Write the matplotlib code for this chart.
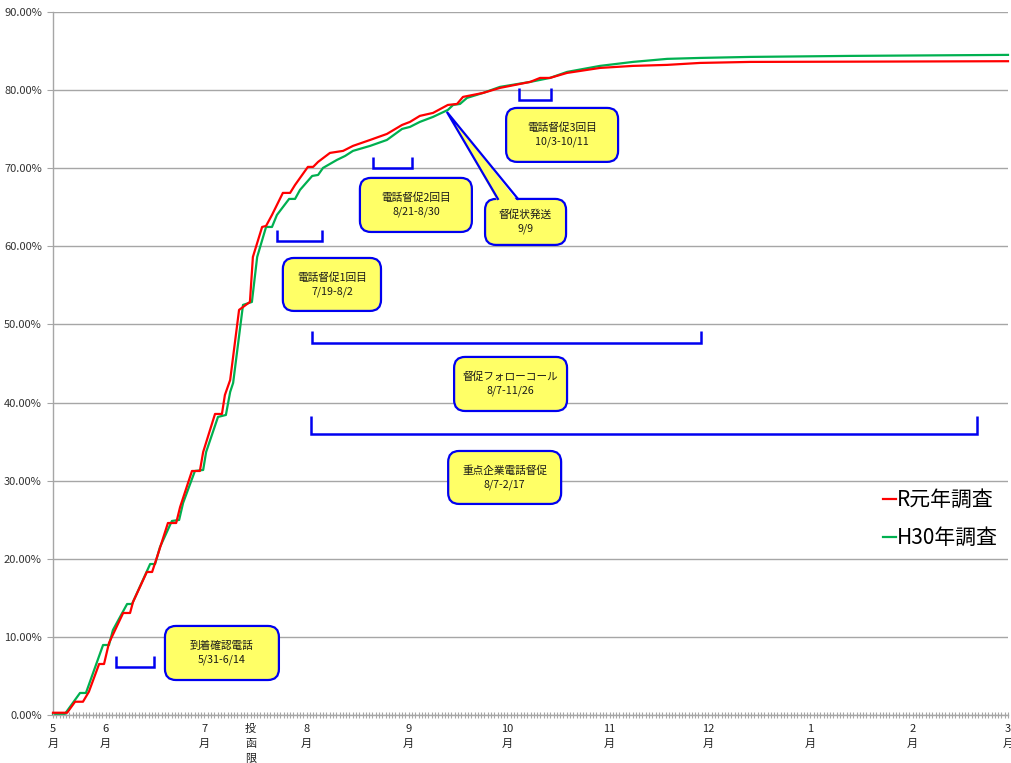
import matplotlib
matplotlib.use("Agg")
import matplotlib.pyplot as plt
from matplotlib.patches import FancyBboxPatch, Polygon
from matplotlib.ticker import FuncFormatter, MultipleLocator

plt.rcParams['font.family'] = ['Noto Sans CJK JP', 'DejaVu Sans']

# ---- data (x = days since 5/16, y = cumulative response rate %) ----
red_label = "R元年調査"
red_days = [0, 4.3, 6.7, 9.1, 10.9, 14.0, 15.5, 17.0, 21.3, 23.4, 24.3, 28.5, 30.1, 31.6,
            34.9, 37.4, 38.6, 42.2, 44.6, 45.6, 49.2, 51.3, 52.2, 53.8, 56.5, 59.8, 60.7,
            63.5, 64.7, 66.5, 69.8, 72.0, 73.5, 77.4, 79.0, 80.5, 84.1, 88.1, 91.1, 96.3,
            101.4, 106.0, 108.4, 111.4, 115.4, 119.9, 122.7, 124.5, 130.6, 135.7, 144.9,
            147.9, 150.9, 156.1, 166.1, 176.1, 186.5, 196.5, 211.7, 250, 290]
red_vals = [0.29, 0.29, 1.70, 1.70, 2.98, 6.53, 6.53, 9.22, 13.06, 13.06, 14.47, 18.31, 18.31,
            20.23, 24.58, 24.58, 26.63, 31.24, 31.24, 33.67, 38.54, 38.54, 40.97, 42.89,
            51.86, 52.88, 58.64, 62.48, 62.61, 64.02, 66.84, 66.84, 67.86, 70.17, 70.17,
            70.81, 71.96, 72.22, 72.86, 73.62, 74.39, 75.54, 75.93, 76.70, 77.08, 78.10,
            78.23, 79.13, 79.64, 80.28, 81.05, 81.56, 81.56, 82.20, 82.84, 83.10, 83.23,
            83.48, 83.61, 83.65, 83.70]

green_label = "H30年調査"
green_days = [0, 3.6, 8.2, 10.0, 15.2, 17.0, 18.2, 22.5, 24.0, 29.5, 31.0, 32.5, 36.1, 38.3,
              39.5, 43.1, 45.6, 46.5, 50.1, 52.5, 53.8, 54.7, 57.7, 60.4, 62.0, 64.7, 66.5,
              68.0, 71.7, 73.5, 75.0, 78.7, 80.5, 82.0, 86.2, 88.7, 91.1, 96.3, 101.4, 106.0,
              108.4, 111.4, 115.4, 119.9, 121.5, 123.6, 125.7, 130.6, 135.7, 144.9, 150.9,
              156.1, 166.1, 176.1, 186.5, 196.5, 211.7, 242, 290]
green_vals = [0.13, 0.13, 2.82, 2.82, 8.96, 8.96, 10.88, 14.21, 14.21, 19.33, 19.33, 21.51,
              24.84, 24.97, 27.14, 31.24, 31.37, 33.67, 38.16, 38.41, 41.36, 42.51, 52.50,
              52.88, 58.64, 62.48, 62.48, 64.02, 66.07, 66.07, 67.22, 69.01, 69.14, 70.04,
              71.06, 71.57, 72.22, 72.86, 73.62, 75.03, 75.29, 75.93, 76.57, 77.46, 78.10,
              78.23, 79.00, 79.64, 80.41, 81.05, 81.56, 82.33, 83.10, 83.61, 84.00, 84.12,
              84.25, 84.38, 84.51]

tick_days = [0, 16, 46, 60, 77, 108, 138, 169, 199, 230, 261, 290]
tick_labels = ["5\n月", "6\n月", "7\n月", "投\n函\n限", "8\n月", "9\n月", "10\n月",
               "11\n月", "12\n月", "1\n月", "2\n月", "3\n月"]

# annotation boxes: (text, x0, x1, y0, y1)
boxes = [
    ("到着確認電話\n5/31-6/14", 34.0, 68.6, 4.48, 11.40),
    ("電話督促1回目\n7/19-8/2", 69.8, 99.6, 51.73, 58.51),
    ("電話督促2回目\n8/21-8/30", 93.2, 127.2, 61.84, 68.76),
    ("督促状発送\n9/9", 131.2, 155.8, 60.18, 66.07),
    ("電話督促3回目\n10/3-10/11", 137.6, 171.6, 70.81, 77.72),
    ("督促フォローコール\n8/7-11/26", 121.8, 156.1, 38.92, 45.84),
    ("重点企業電話督促\n8/7-2/17", 120.0, 154.3, 27.02, 33.80),
]
# brackets: (x0, x1, y_bottom, y_top)
brackets = [
    (19.1, 30.7, 6.15, 7.55),
    (68.0, 81.7, 60.69, 62.10),
    (97.2, 109.0, 70.04, 71.43),
    (141.5, 151.2, 78.75, 80.28),
    (78.7, 196.8, 47.63, 49.17),
    (78.3, 280.6, 35.98, 38.28),
]
# callout pointer of 督促状発送 : base (x_left, x_right) on box top, tip (x, y)
pointer_base = (135.1, 141.2)
pointer_tip = (119.6, 77.21)

# ---- figure ----
fig = plt.figure(figsize=(10.11, 7.63), dpi=100)
ax = fig.add_axes([53 / 1011, 48 / 763, 955 / 1011, 703 / 763])
ax.set_xlim(0, 290)
ax.set_ylim(0, 90)

grid_c = '#A6A6A6'
ax.yaxis.set_major_locator(MultipleLocator(10))
ax.yaxis.set_major_formatter(FuncFormatter(lambda v, p: f"{v:.2f}%"))
ax.yaxis.grid(True, color=grid_c, lw=1.0, zorder=0)
ax.set_axisbelow(True)
for s in ['top', 'right']:
    ax.spines[s].set_visible(False)
for s in ['left', 'bottom']:
    ax.spines[s].set_color(grid_c)
    ax.spines[s].set_linewidth(1.0)

ax.set_xticks(tick_days)
ax.set_xticklabels(tick_labels, linespacing=1.6)
ax.xaxis.set_minor_locator(MultipleLocator(1))
ax.tick_params(axis='x', which='both', direction='inout', length=5, width=0.8,
               color=grid_c, labelsize=8, pad=4, labelcolor='#222222')
ax.tick_params(axis='y', which='major', direction='out', length=4, width=0.8,
               color=grid_c, labelsize=8, pad=4, labelcolor='#333333')
for lab in ax.get_xticklabels():
    lab.set_verticalalignment('top')

ax.plot(red_days, red_vals, color='#FF0000', lw=1.6, label=red_label, zorder=3, clip_on=False)
ax.plot(green_days, green_vals, color='#00B050', lw=1.6, label=green_label, zorder=2, clip_on=False)

blue = '#0000F0'
yellow = '#FFFF66'

fig.canvas.draw()
p0 = ax.transData.transform((0, 0))
p1 = ax.transData.transform((1, 1))
px_x = p1[0] - p0[0]
px_y = p1[1] - p0[1]
aspect = px_x / px_y
rsize = 11 / px_x  # ~11 px corner radius

for (x0, x1, yb, yt) in brackets:
    ax.plot([x0, x0, x1, x1], [yt, yb, yb, yt], color=blue, lw=1.8, zorder=4,
            solid_joinstyle='miter', solid_capstyle='butt')

for (txt, x0, x1, y0, y1) in boxes:
    patch = FancyBboxPatch((x0, y0), x1 - x0, y1 - y0,
                           boxstyle=f"round,pad=0,rounding_size={rsize}",
                           mutation_aspect=aspect,
                           facecolor=yellow, edgecolor=blue, lw=1.6, zorder=5)
    ax.add_patch(patch)
    ax.text((x0 + x1) / 2, (y0 + y1) / 2, txt, ha='center', va='center',
            fontsize=7.7, color='#1a1a1a', linespacing=1.4, zorder=8)

# pointer of 督促状発送 callout
box4 = boxes[3]
ytop = box4[4]
tri = Polygon([(pointer_base[0], ytop - 0.4), pointer_tip, (pointer_base[1], ytop - 0.4)],
              closed=True, facecolor=yellow, edgecolor='none', zorder=6)
ax.add_patch(tri)
ax.plot([pointer_base[0], pointer_tip[0], pointer_base[1]], [ytop, pointer_tip[1], ytop],
        color=blue, lw=1.6, zorder=7, solid_joinstyle='miter')

leg = ax.legend(loc='upper left', bbox_to_anchor=(883 / 1011, (763 - 489) / 763),
                bbox_transform=fig.transFigure, frameon=False, fontsize=15,
                handlelength=0.62, handletextpad=0.05, labelspacing=0.78,
                borderaxespad=0, borderpad=0)
for h in leg.get_lines():
    h.set_linewidth(1.6)

fig.savefig("out.png", dpi=100)
